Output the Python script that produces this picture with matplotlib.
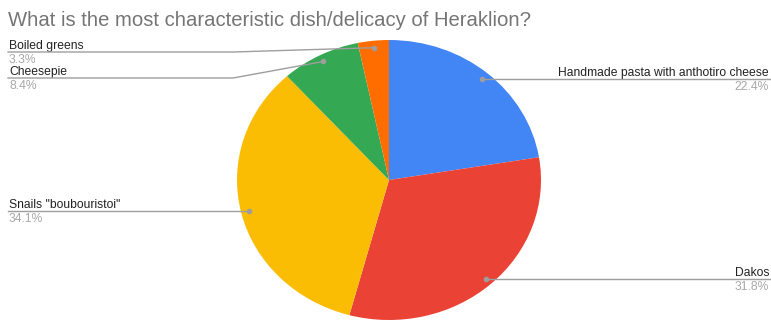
import numpy as np
import matplotlib.pyplot as plt

plt.rcParams['font.family'] = ['Liberation Sans', 'DejaVu Sans']

title = 'What is the most characteristic dish/delicacy of Heraklion?'
dishes = ['Handmade pasta with anthotiro cheese', 'Dakos', 'Snails "boubouristoi"', 'Cheesepie', 'Boiled greens']
shares = [22.4, 31.8, 34.1, 8.4, 3.3]
colors = ['#4285F4', '#EA4335', '#FBBC04', '#34A853', '#FF6D01']

W, H = 771, 322
cx, cy, rx, ry = 389, 180, 152, 140

fig = plt.figure(figsize=(W / 100, H / 100), dpi=100)

# pie axes stretched so the unit circle fills the ellipse
ax = fig.add_axes([(cx - rx) / W, (H - cy - ry) / H, 2 * rx / W, 2 * ry / H])
wedges, _ = ax.pie(shares, colors=colors, startangle=90, counterclock=False,
                   wedgeprops=dict(linewidth=0))
ax.set_aspect('auto')
ax.set_xlim(-1, 1)
ax.set_ylim(-1, 1)
ax.axis('off')

# overlay in pixel coordinates for the labels and leader lines
ov = fig.add_axes([0, 0, 1, 1], zorder=5)
ov.set_xlim(0, W)
ov.set_ylim(H, 0)
ov.axis('off')
ov.patch.set_alpha(0)

ov.text(8, 26, title, fontsize=14.6, color='#757575', va='baseline', ha='left')

# label placement: side, y of the underline (None = level with the dot), optional elbow x
layout = [('right', None, None), ('right', None, None), ('left', None, None),
          ('left', 78, 233), ('left', 52, 233)]

line_col = '#9E9E9E'
for w, name, pct, (side, ly, elbow) in zip(wedges, dishes, shares, layout):
    mid = np.deg2rad((w.theta1 + w.theta2) / 2)
    px = cx + 0.95 * rx * np.cos(mid)
    py = cy - 0.95 * ry * np.sin(mid)
    if ly is None:
        ly = py
    ov.plot(px, py, 'o', ms=3, color=line_col, zorder=6)
    if side == 'right':
        xs, ys = [px, W], [py, ly]
        tx, ha = W - 2, 'right'
    else:
        if elbow is None:
            xs, ys = [px, 8], [py, ly]
        else:
            xs, ys = [px, elbow, 8], [py, ly, ly]
        tx, ha = 9, 'left'
    ov.plot(xs, ys, color=line_col, lw=1, zorder=5)
    ov.text(tx, ly - 3, name, fontsize=8.7, color='#222222', ha=ha, va='baseline')
    ov.text(tx, ly + 11, f'{pct}%', fontsize=8.7, color='#A8A8A8', ha=ha, va='baseline')

fig.savefig('out.png', dpi=100, facecolor='white')
